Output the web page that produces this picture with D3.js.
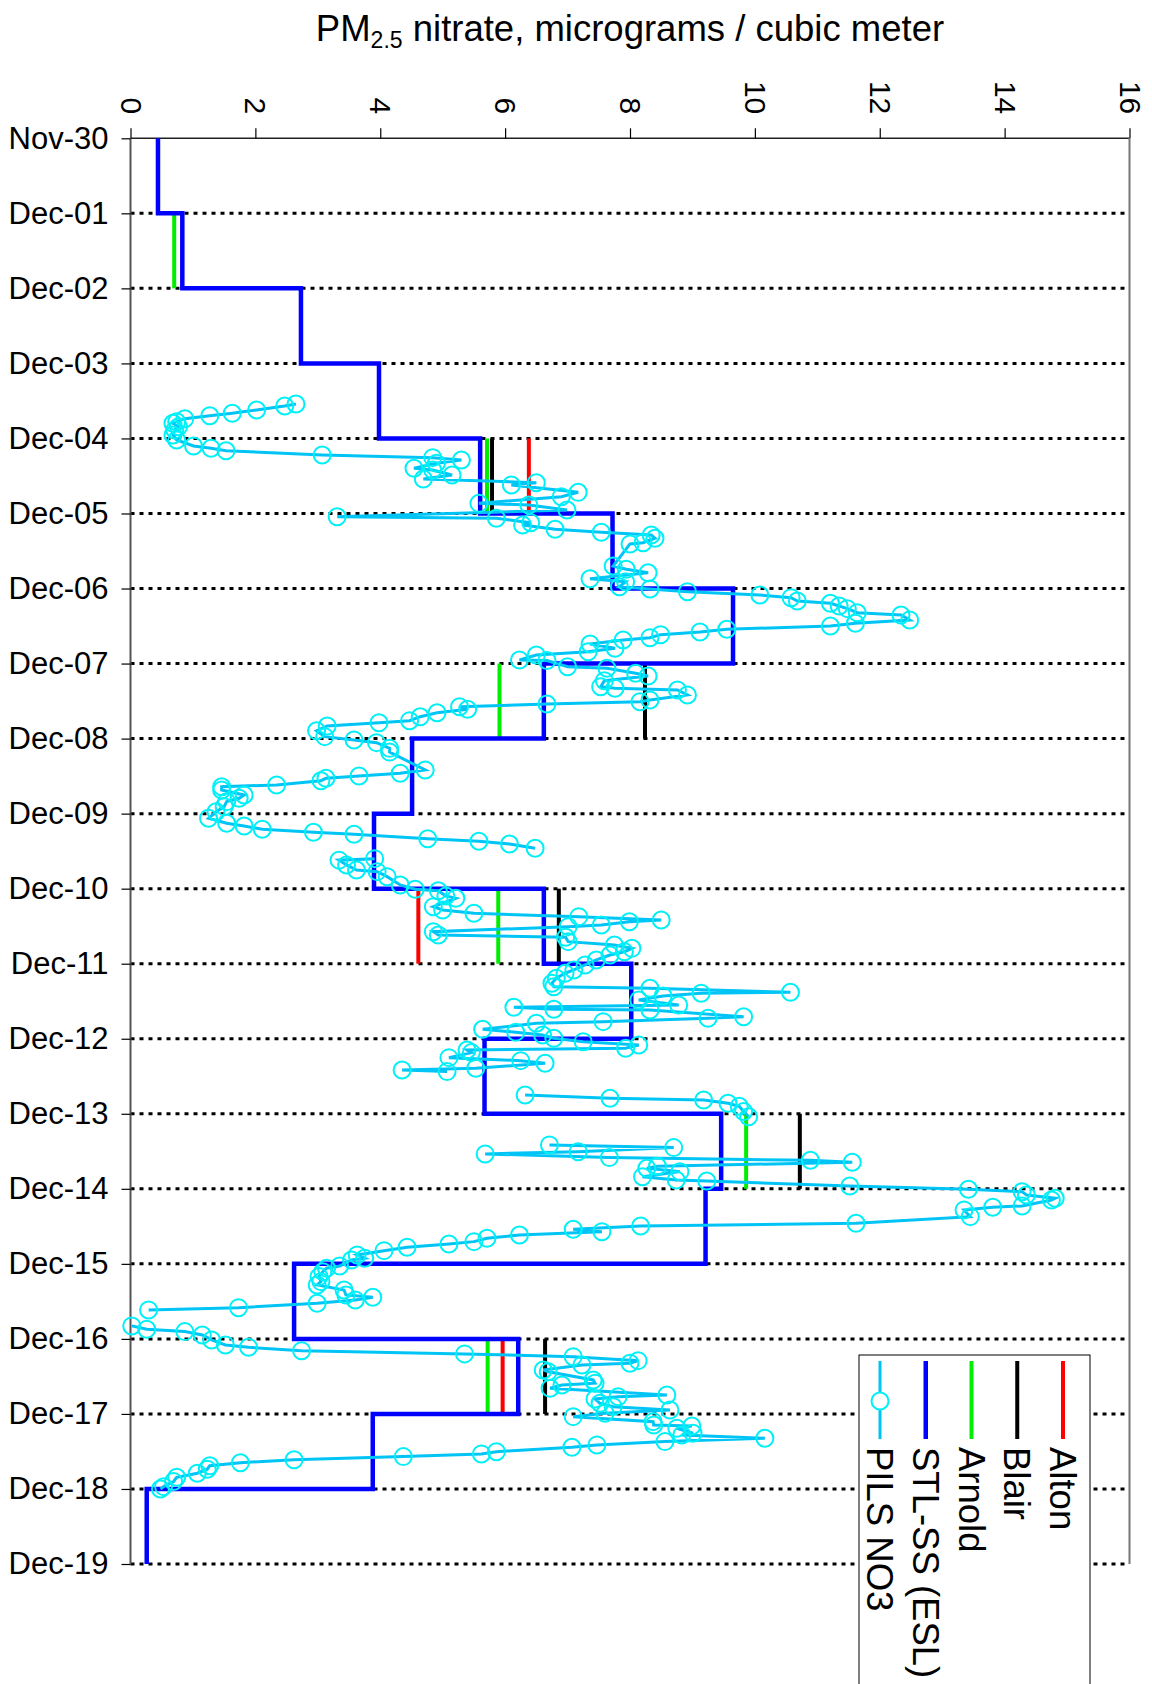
<!DOCTYPE html>
<html>
<head>
<meta charset="utf-8">
<script src="https://cdn.jsdelivr.net/npm/d3@7"></script>
<style>
  body { margin: 0; background: #fff; }
  svg { display: block; }
  text { font-family: "Liberation Sans", Arial, sans-serif; fill: #000; }
</style>
</head>
<body>
<svg id="chart" width="1152" height="1684"></svg>
<script>
// Day labels along the time axis (day 0 = Nov-30)
const dayLabels = ["Nov-30","Dec-01","Dec-02","Dec-03","Dec-04","Dec-05","Dec-06","Dec-07",
  "Dec-08","Dec-09","Dec-10","Dec-11","Dec-12","Dec-13","Dec-14","Dec-15","Dec-16","Dec-17",
  "Dec-18","Dec-19"];
const valueTicks = [0, 2, 4, 6, 8, 10, 12, 14, 16];

// STL-SS (ESL) daily filter values, one per day starting Nov-30
const stlValues = [0.44, 0.83, 2.73, 3.98, 5.6, 7.72, 9.65, 6.62, 4.51, 3.9, 6.62, 8.02,
  5.67, 9.46, 9.21, 2.62, 6.21, 3.88, 0.26];

// Daily filter values at the other sites: start day and concentration
const altonDays = [4, 10, 16];
const altonValues = [6.38, 4.61, 5.96];
const blairDays = [4, 7, 10, 13, 16];
const blairValues = [5.79, 8.24, 6.86, 10.72, 6.64];
const arnoldDays = [1, 4, 7, 10, 13, 16];
const arnoldValues = [0.7, 5.71, 5.91, 5.89, 9.86, 5.72];

// PILS NO3 semi-continuous record: fractional day and concentration (null = data gap)
const pilsDay = [
  3.541,3.567,3.621,3.665,3.697,3.737,3.777,3.798,3.843,3.887,3.954,4.02,4.10,4.131,4.163,4.22,
  4.256,4.287,4.331,4.398,4.42,4.487,4.54,4.59,4.62,4.718,4.776,4.865,4.887,4.953,5.043,5.064,
  5.123,5.153,5.21,5.25,5.286,5.33,5.389,5.406,5.70,5.744,5.789,5.869,5.909,5.976,6.006,6.042,
  6.086,6.122,6.166,6.197,6.233,6.268,6.322,6.353,6.419,6.463,6.499,6.543,6.579,6.615,6.655,
  6.686,6.739,6.796,6.842,6.886,6.952,6.96,7.042,7.063,7.13,7.165,7.228,7.308,7.33,7.352,7.419,
  7.486,7.508,7.539,7.575,7.609,7.655,7.708,7.761,7.788,7.832,7.895,7.974,8.018,8.054,8.13,8.18,
  8.418,8.462,8.498,8.529,8.561,8.618,8.641,8.685,8.751,8.795,8.84,8.907,8.974,9.062,9.129,9.165,
  9.209,9.249,9.275,9.334,9.369,9.404,9.461,
  9.53,
  9.60,9.62,9.684,9.751,9.773,9.84,9.951,10.008,10.027,10.097,10.128,10.24,10.284,10.328,10.373,
  10.417,10.44,10.484,10.506,10.573,10.617,10.648,10.706,10.75,10.795,10.84,10.884,10.95,11.017,
  11.083,11.127,11.194,11.26,11.306,11.327,11.38,11.394,11.43,11.483,11.55,11.581,11.607,11.616,
  11.706,11.727,11.772,11.794,11.874,11.914,11.95,11.994,12.039,12.083,12.127,12.15,12.185,12.252,
  12.292,12.327,12.394,12.416,12.438,
  12.6,
  12.749,12.793,12.816,12.86,12.90,12.97,13.04,
  13.2,
  13.415,13.451,13.505,13.535,13.584,13.62,13.646,13.70,13.726,13.771,13.838,13.882,13.895,13.962,
  14.006,14.038,14.082,14.126,14.15,14.228,14.246,14.281,14.371,14.459,14.495,14.539,14.571,14.615,
  14.659,14.704,14.735,14.779,14.824,14.881,14.925,14.948,15.028,15.058,15.104,15.17,15.237,15.281,
  15.348,15.414,15.446,15.481,15.525,15.584,15.614,
  15.7,
  15.827,15.872,15.903,15.948,16.014,16.081,16.112,16.157,16.20,16.237,16.29,16.325,16.347,16.414,
  16.437,16.547,16.591,16.614,16.658,16.747,16.77,16.80,16.858,16.903,16.947,16.99,17.036,17.103,
  17.147,17.16,17.191,17.258,17.28,17.324,17.369,17.413,17.444,17.503,17.533,17.569,17.61,17.65,
  17.69,17.737,17.79,17.844,17.90,17.969,18.0
];
const pilsNO3 = [
  2.65,2.47,2.02,1.63,1.27,0.87,0.74,0.68,0.77,0.71,0.68,0.74,1.01,1.29,1.53,3.07,
  4.84,5.30,4.90,4.54,4.84,5.15,4.69,6.50,6.10,7.17,6.90,5.58,6.38,6.99,3.31,5.86,
  6.41,6.28,6.80,7.54,8.34,8.40,8.21,8.00,7.73,7.94,8.29,7.36,7.93,7.83,8.32,8.92,
  10.08,10.58,10.68,11.21,11.35,11.48,11.64,12.34,12.48,11.61,11.21,9.55,9.12,8.49,8.32,
  7.89,7.36,7.76,7.33,6.50,6.23,6.67,7.00,7.63,8.09,8.29,7.59,7.53,7.76,8.76,8.92,
  8.32,8.16,6.67,5.27,5.40,4.91,4.64,4.47,3.98,3.15,2.98,3.11,3.58,3.94,4.15,4.15,
  4.72,4.32,3.66,3.13,3.05,2.34,1.46,1.46,1.82,1.74,1.54,1.50,1.37,1.25,1.54,1.82,
  2.11,2.93,3.58,4.76,5.58,6.07,6.48,
  null,
  3.91,3.34,3.46,3.62,3.95,4.11,4.32,4.56,4.93,5.05,5.21,4.85,5.00,5.50,7.18,
  8.50,7.99,7.54,7.01,4.85,4.93,6.97,7.01,7.75,8.03,7.91,7.68,7.46,7.28,
  7.10,6.96,6.82,6.75,6.78,8.32,10.57,9.14,8.53,8.14,8.78,6.14,6.78,8.32,
  9.82,9.25,7.57,6.50,5.64,6.17,6.60,6.78,7.25,8.14,7.93,5.39,5.46,5.10,
  6.25,6.64,5.53,4.35,5.07,
  null,
  6.32,7.68,9.18,9.57,9.75,9.82,9.90,
  null,
  6.71,8.70,7.17,5.68,7.67,10.89,11.56,8.44,8.27,8.80,8.20,8.74,9.23,11.52,
  13.42,14.28,14.35,14.81,14.75,14.28,13.81,13.35,13.45,11.62,8.17,7.09,7.55,6.23,
  5.71,5.50,5.10,4.43,4.06,3.63,3.75,3.54,3.35,3.14,3.08,3.02,3.05,2.99,
  3.42,3.45,3.88,3.60,2.99,1.73,0.29,
  null,
  0.02,0.26,0.87,1.15,1.30,1.52,1.89,2.74,5.35,7.09,8.13,8.00,7.23,6.61,
  6.69,7.41,7.44,6.91,6.72,8.59,7.81,7.44,7.52,7.73,8.64,7.60,7.09,8.37,
  8.38,8.99,8.75,9.01,8.83,10.16,8.56,7.47,7.07,5.86,5.62,4.37,2.62,1.76,
  1.27,1.23,1.07,0.74,0.69,0.53,0.48
];

const plotLeft = 130.5, plotRight = 1129.5, plotTop = 138.3, plotBottom = 1564;

const svg = d3.select("#chart");
const x = d3.scaleLinear().domain([0, 16]).range([plotLeft, plotRight]);
const y = d3.scaleLinear().domain([0, 19]).range([plotTop, plotBottom]);

// Title
const title = svg.append("text")
  .attr("x", 630).attr("y", 41)
  .attr("text-anchor", "middle")
  .attr("font-size", 36.5);
title.append("tspan").text("PM");
title.append("tspan").attr("font-size", 23).attr("dy", 7).text("2.5");
title.append("tspan").attr("dy", -7).text(" nitrate, micrograms / cubic meter");

// Dotted day gridlines
svg.append("g").selectAll("line")
  .data(d3.range(1, 20))
  .join("line")
  .attr("x1", plotLeft).attr("x2", plotRight)
  .attr("y1", d => y(d)).attr("y2", d => y(d))
  .attr("stroke", "#000")
  .attr("stroke-width", 3)
  .attr("stroke-dasharray", "4,5");

// Plot frame
svg.append("line").attr("x1", plotLeft).attr("x2", plotRight).attr("y1", plotTop).attr("y2", plotTop)
  .attr("stroke", "#222").attr("stroke-width", 1.5);
svg.append("line").attr("x1", plotLeft).attr("x2", plotLeft).attr("y1", plotTop).attr("y2", plotBottom)
  .attr("stroke", "#555").attr("stroke-width", 2);
svg.append("line").attr("x1", plotRight).attr("x2", plotRight).attr("y1", plotTop).attr("y2", plotBottom)
  .attr("stroke", "#777").attr("stroke-width", 2);

// Value axis along the top: ticks point up, labels read downward
const xAxis = d3.axisTop(x).tickValues(valueTicks).tickSize(10).tickSizeOuter(0).tickFormat(d3.format("d"));
const gx = svg.append("g").attr("transform", `translate(0,${plotTop})`).call(xAxis);
gx.select(".domain").remove();
gx.selectAll(".tick line").attr("stroke", "#000").attr("stroke-width", 1.2);
gx.selectAll(".tick text")
  .attr("font-size", 30)
  .attr("font-family", "Liberation Sans, Arial, sans-serif")
  .attr("fill", "#000")
  .attr("text-anchor", "end")
  .attr("y", 0).attr("dy", "0.35em")
  .attr("transform", "translate(0,-24) rotate(90)");

// Day axis on the left
const yAxis = d3.axisLeft(y).tickValues(d3.range(0, 20)).tickSize(9).tickSizeOuter(0)
  .tickFormat(i => dayLabels[i]);
const gy = svg.append("g").attr("transform", `translate(${plotLeft},0)`).call(yAxis);
gy.select(".domain").remove();
gy.selectAll(".tick line").attr("stroke", "#000").attr("stroke-width", 1.2);
gy.selectAll(".tick text")
  .attr("font-size", 31)
  .attr("font-family", "Liberation Sans, Arial, sans-serif")
  .attr("fill", "#000")
  .attr("x", -22);

// Site daily bars (vertical segments spanning one day)
function siteBars(days, values, color) {
  svg.append("g").selectAll("line")
    .data(days.map((d, i) => ({ day: d, v: values[i] })))
    .join("line")
    .attr("x1", d => x(d.v)).attr("x2", d => x(d.v))
    .attr("y1", d => y(d.day)).attr("y2", d => y(d.day + 1))
    .attr("stroke", color).attr("stroke-width", 4);
}
siteBars(altonDays, altonValues, "#ff0000");
siteBars(blairDays, blairValues, "#000000");
siteBars(arnoldDays, arnoldValues, "#00ee00");

// STL-SS step trace
const stepPts = [];
stlValues.forEach((v, i) => { stepPts.push([v, i]); stepPts.push([v, i + 1]); });
svg.append("path")
  .datum(stepPts)
  .attr("fill", "none")
  .attr("stroke", "#0000ff")
  .attr("stroke-width", 4.5)
  .attr("stroke-linejoin", "miter")
  .attr("d", d3.line().x(d => x(d[0])).y(d => y(d[1])));

// PILS NO3 trace with hollow markers
const pils = pilsDay.map((t, i) => ({ t, v: pilsNO3[i] }));
svg.append("path")
  .datum(pils)
  .attr("fill", "none")
  .attr("stroke", "#00c4f5")
  .attr("stroke-width", 3)
  .attr("d", d3.line().defined(d => d.v !== null).x(d => x(d.v)).y(d => y(d.t)));
svg.append("g").selectAll("circle")
  .data(pils.filter(d => d.v !== null))
  .join("circle")
  .attr("cx", d => x(d.v)).attr("cy", d => y(d.t))
  .attr("r", 8.5)
  .attr("fill", "none")
  .attr("stroke", "#00f0f8")
  .attr("stroke-width", 2);

// Legend
const legend = svg.append("g");
legend.append("rect")
  .attr("x", 859).attr("y", 1355).attr("width", 231).attr("height", 360)
  .attr("fill", "#fff").attr("stroke", "#000").attr("stroke-width", 1);
const legendItems = [
  { name: "PILS NO3", color: "#00c4f5", marker: true },
  { name: "STL-SS (ESL)", color: "#0000ff" },
  { name: "Arnold", color: "#00ee00" },
  { name: "Blair", color: "#000000" },
  { name: "Alton", color: "#ff0000" }
];
const legendX = d3.scalePoint().domain(legendItems.map(d => d.name)).range([880, 1063]);
const li = legend.selectAll("g.item").data(legendItems).join("g").attr("class", "item");
li.append("line")
  .attr("x1", d => legendX(d.name)).attr("x2", d => legendX(d.name))
  .attr("y1", 1361).attr("y2", 1439)
  .attr("stroke", d => d.color).attr("stroke-width", d => d.name === "STL-SS (ESL)" ? 4.5 : (d.marker ? 3 : 4));
li.filter(d => d.marker).append("circle")
  .attr("cx", d => legendX(d.name)).attr("cy", 1401).attr("r", 8.5)
  .attr("fill", "#fff").attr("stroke", "#00f0f8").attr("stroke-width", 2);
li.append("text")
  .attr("transform", d => `translate(${legendX(d.name)},1447) rotate(90)`)
  .attr("dy", "0.35em")
  .attr("font-size", 36.5)
  .text(d => d.name);
</script>
</body>
</html>
